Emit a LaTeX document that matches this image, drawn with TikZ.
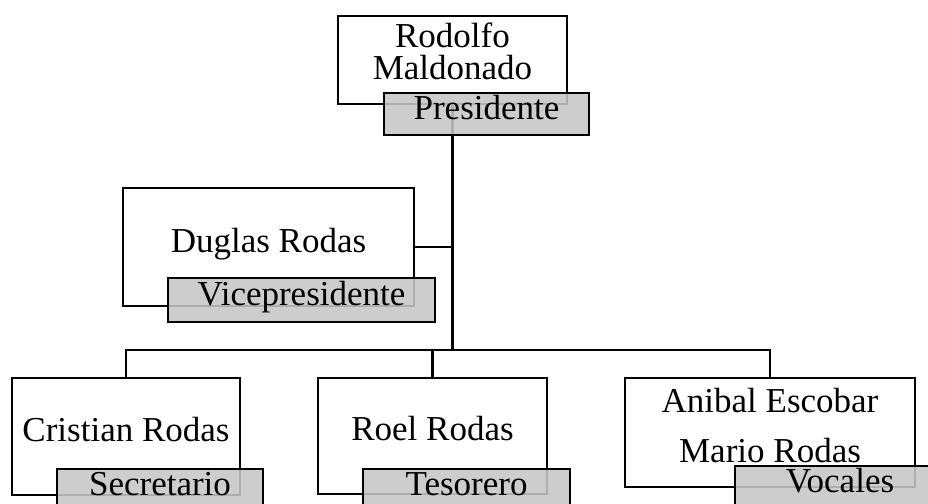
\documentclass[tikz,border=0pt]{standalone}
\usepackage{fontspec}
\setmainfont{Liberation Serif}
\usetikzlibrary{positioning,calc}

\begin{document}
\begin{tikzpicture}[
  x=1pt, y=-1pt,
  persona/.style={
    rectangle, draw=black, fill=white, line width=2.8pt,
    minimum width=#1, align=center, inner sep=0pt,
    text height=23pt, text depth=14pt,
    font=\fontsize{35}{32}\selectfont
  },
  cargo/.style={
    rectangle, draw=black, fill=black!22, fill opacity=0.88, text opacity=1,
    line width=2.8pt, minimum width=#1, minimum height=42pt,
    inner sep=0pt, text height=23pt, text depth=12pt,
    font=\fontsize{35}{32}\selectfont
  },
  linea/.style={line width=2.8pt, black},
]
  \useasboundingbox[fill=white] (0,0) rectangle (928,503);

  % Row 1: Presidente
  \node[persona=229pt, minimum height=88pt, text height=55pt, text depth=17pt] (rodolfo) at (452.5,60) {Rodolfo\\Maldonado};

  % Row 2: Vicepresidente
  \node[persona=291pt, minimum height=118pt, text depth=12pt] (duglas) at (268.5,247) {Duglas Rodas};

  % Row 3: Secretario, Tesorero, Vocales
  \node[persona=228pt, minimum height=117pt] (cristian) at (126,436.5) {Cristian Rodas};
  \node[persona=229pt, minimum height=116pt] (roel) at (432.5,436) {Roel Rodas};
  \node[persona=290pt, minimum height=109pt, text height=73pt] (anibal) at (770,432.5) {Anibal Escobar\\[18pt]Mario Rodas};

  % Connectors
  \coordinate (jn) at (rodolfo.south |- 0,350);
  \draw[linea] (rodolfo.south) -- (jn);
  \draw[linea] (duglas.east) -- (duglas.east -| jn);
  \draw[linea] (cristian.north) |- (jn) -| (anibal.north);
  \draw[linea] (roel.north) -- (roel.north |- jn);

  % Cargos
  \node[cargo=205pt] (presidente) at (486.5,114) {Presidente};
  \node[cargo=267pt, minimum height=44pt] (vice) at (301.5,300) {Vicepresidente};
  \node[cargo=206pt] (secretario) at (160,490) {Secretario};
  \node[cargo=207pt] (tesorero) at (466.5,490) {Tesorero};
  \node[cargo=210pt] (vocales) at (840,487) {Vocales};
\end{tikzpicture}
\end{document}
